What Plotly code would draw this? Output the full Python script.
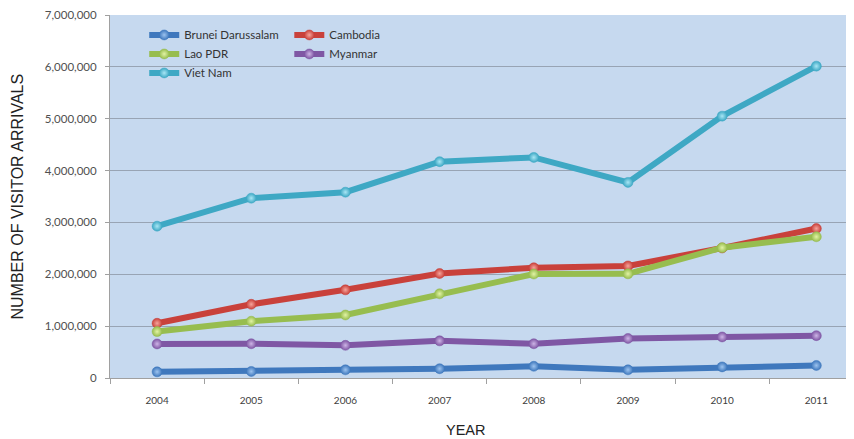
import plotly.graph_objects as go

years = ["2004", "2005", "2006", "2007", "2008", "2009", "2010", "2011"]
brunei = [118697, 126450, 157464, 178540, 225757, 157474, 214290, 242061]
cambodia = [1055202, 1421615, 1700041, 2015128, 2125465, 2161577, 2508289, 2881862]
lao = [894806, 1095315, 1215106, 1623943, 2005000, 2008363, 2513028, 2723564]
myanmar = [656910, 660206, 630061, 716434, 660757, 762547, 791505, 816369]
vietnam = [2927876, 3467757, 3583486, 4171564, 4253740, 3772359, 5049855, 6014032]

series = [
    ("Brunei Darussalam", brunei, "#3f78bd", "#9cc3ef", "legend"),
    ("Cambodia", cambodia, "#c9413b", "#f6a49b", "legend2"),
    ("Lao PDR", lao, "#97bd4f", "#e2f3a4", "legend"),
    ("Myanmar", myanmar, "#7f57a4", "#cdb4e6", "legend2"),
    ("Viet Nam", vietnam, "#3ea8c4", "#a8e6f5", "legend"),
]

fig = go.Figure()
for name, vals, col, light, lg in series:
    fig.add_trace(go.Scatter(
        x=years, y=vals, name=name, mode="lines+markers",
        line=dict(color=col, width=6),
        marker=dict(size=10, color=col, line=dict(color=col, width=0.5),
                    gradient=dict(type="radial", color=light)),
        legend=lg,
    ))

xtickfont = dict(family="Lato, Open Sans, sans-serif", size=10, color="#404040")
ytickfont = dict(family="Lato, Open Sans, sans-serif", size=11.5, color="#505050")
legfont = dict(family="Lato, sans-serif", size=11.5, color="#333")
titlefont = dict(family="Liberation Sans Narrow, Liberation Sans, Arial, sans-serif", size=16, color="#222")
xtitlefont = dict(family="Liberation Sans Narrow, Liberation Sans, Arial, sans-serif", size=14.5, color="#222")

fig.update_layout(
    width=846, height=431,
    margin=dict(l=102, r=0, t=7, b=61),
    paper_bgcolor="white",
    plot_bgcolor="#c6d9ef",
    showlegend=True,
    legend=dict(x=0.046, y=0.985, xanchor="left", yanchor="top",
                bgcolor="rgba(0,0,0,0)", font=legfont,
                tracegroupgap=0, itemwidth=30),
    legend2=dict(x=0.241, y=0.985, xanchor="left", yanchor="top",
                 bgcolor="rgba(0,0,0,0)", font=legfont,
                 tracegroupgap=0, itemwidth=30),
    xaxis=dict(range=[-0.5, 7.4], showgrid=False, showline=True, linecolor="#a0a0a0",
               ticks="outside", tickson="boundaries", ticklen=5, tickcolor="#a0a0a0",
               tickfont=xtickfont, ticklabelstandoff=13),
    yaxis=dict(range=[0, 7000000], dtick=1000000, tickformat=",", showgrid=True,
               gridcolor="#98a4b4", gridwidth=1.2, showline=True, linecolor="#a0a0a0",
               ticks="outside", ticklen=4, tickcolor="#a0a0a0", tickfont=ytickfont,
               ticklabelstandoff=6, zeroline=False),
    annotations=[
        dict(text="NUMBER OF VISITOR ARRIVALS", xref="paper", yref="paper",
             x=-0.125, y=0.5, xanchor="center", textangle=-90, showarrow=False,
             font=titlefont),
        dict(text="YEAR", xref="paper", yref="paper", x=0.478, y=-0.143,
             showarrow=False, yanchor="middle", font=xtitlefont),
    ],
)

fig.write_html("out.html")
